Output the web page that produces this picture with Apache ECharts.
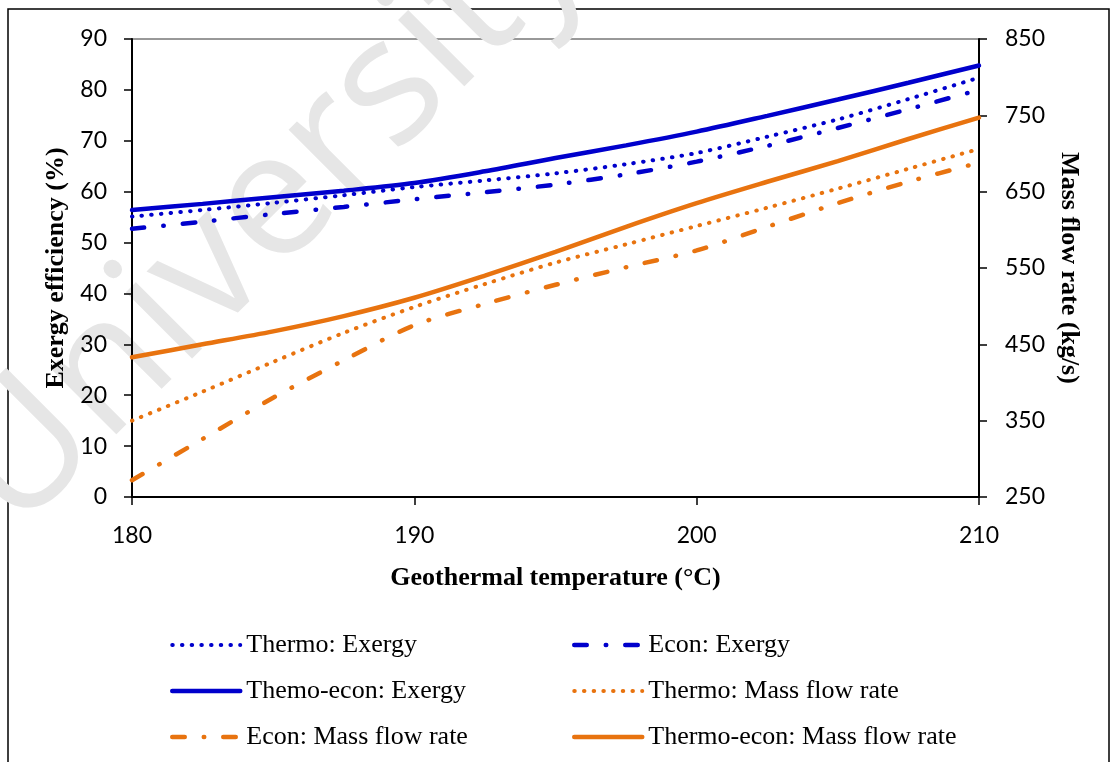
<!DOCTYPE html>
<html>
<head>
<meta charset="utf-8">
<script src="https://cdn.jsdelivr.net/npm/echarts@6/dist/echarts.min.js"></script>
<style>html,body{margin:0;padding:0;background:#fff}#c{width:1115px;height:762px}</style>
</head>
<body>
<div id="c"></div>
<script>
// Data
var temps = [180, 182.5, 185, 187.5, 190, 192.5, 195, 197.5, 200, 202.5, 205, 207.5, 210];
var thermoExergy    = [55.1, 56.4, 57.8, 59.3, 60.9, 62.2, 63.6, 65.4, 67.6, 70.8, 74.2, 78.2, 82.4];
var econExergy      = [52.7, 54.1, 55.6, 57.0, 58.5, 59.9, 61.4, 63.4, 65.9, 69.0, 72.5, 76.2, 80.0];
var thermoEconExergy= [56.4, 57.6, 58.9, 60.2, 61.7, 64.0, 66.6, 69.1, 71.8, 74.9, 78.1, 81.4, 84.8];
var thermoMass      = [350, 388, 427, 465, 499, 529, 557, 581, 605, 629, 654, 680, 706];
var econMass        = [272, 326, 380, 429, 475, 503, 528, 551, 573, 604, 635, 663, 688];
var thermoEconMass  = [433, 450, 467, 487, 511, 540, 571, 604, 635, 663, 690, 719, 747];
var xTicks = [180, 190, 200, 210];
var leftTicks = [0, 90, 10];
var rightTicks = [250, 850, 100];
var names = ['Thermo: Exergy', 'Econ: Exergy', 'Themo-econ: Exergy',
             'Thermo: Mass flow rate', 'Econ: Mass flow rate', 'Thermo-econ: Mass flow rate'];

var BLUE = '#0000CC', ORANGE = '#E8730F';
function pairs(vals){ return temps.map(function(t,i){ return [t, vals[i]]; }); }
var DOT = [0.5, 9.2];
var DASHDOT = [12.5, 19, 0.5, 19];

var styles = {};
function ser(name, vals, axis, color, type, width){
  styles[name] = { color: color, width: width, type: type, cap: 'round' };
  return {
    name: name, type: 'line', yAxisIndex: axis, data: pairs(vals),
    smooth: 0.3, symbol: 'none', showSymbol: false,
    lineStyle: { color: color, width: width, type: type, cap: 'round' },
    itemStyle: { color: color }
  };
}
var series = [
  ser(names[0], thermoExergy, 0, BLUE, DOT, 4),
  ser(names[1], econExergy, 0, BLUE, DASHDOT, 4.5),
  ser(names[2], thermoEconExergy, 0, BLUE, 'solid', 4.5),
  ser(names[3], thermoMass, 1, ORANGE, DOT, 4),
  ser(names[4], econMass, 1, ORANGE, DASHDOT, 4.5),
  ser(names[5], thermoEconMass, 1, ORANGE, 'solid', 4.5)
];
function legItems(list){
  return list.map(function(n){
    return { name: n, lineStyle: styles[n], itemStyle: { opacity: 0, color: 'transparent', borderWidth: 0 } };
  });
}

var chart = echarts.init(document.getElementById('c'), null, {renderer: 'canvas'});
var tickFont = { fontFamily: 'Lato', fontSize: 23, color: '#000' };
var nameFont = { fontFamily: 'Liberation Serif', fontSize: 26, fontWeight: 'bold', color: '#000' };
var legText = { fontFamily: 'Liberation Serif', fontSize: 26, color: '#000', lineHeight: 26, padding: [0,0,0,1] };

chart.setOption({
  animation: false,
  backgroundColor: '#fff',
  graphic: [
    { type: 'rect', z: 0, shape: { x: 8, y: 9, width: 1101, height: 800 },
      style: { fill: null, stroke: '#000', lineWidth: 1.5 } },
    { type: 'text', z: 0, x: 268, y: 212, rotation: Math.PI / 4,
      style: { text: 'University', font: '175px "Open Sans"', fill: '#e6e6e6',
               align: 'center', verticalAlign: 'middle' } }
  ],
  grid: { left: 132, right: 136, top: 39, bottom: 265, show: true,
          borderColor: '#333', borderWidth: 1, backgroundColor: 'transparent' },
  xAxis: {
    type: 'value', min: xTicks[0], max: xTicks[xTicks.length-1], interval: 10,
    name: 'Geothermal temperature (°C)', nameLocation: 'middle', nameGap: 68,
    nameTextStyle: nameFont,
    axisLine: { lineStyle: { color: '#000', width: 2 } },
    axisTick: { show: true, inside: false, length: 8, lineStyle: { color: '#000', width: 1.5 } },
    axisLabel: Object.assign({ margin: 27 }, tickFont),
    splitLine: { show: false }
  },
  yAxis: [
    { type: 'value', position: 'left', min: leftTicks[0], max: leftTicks[1], interval: leftTicks[2],
      name: 'Exergy efficiency (%)', nameLocation: 'middle', nameGap: 60, nameRotate: 90,
      nameTextStyle: nameFont,
      axisLine: { show: true, lineStyle: { color: '#000', width: 2 } },
      axisTick: { show: true, length: 8, lineStyle: { color: '#000', width: 1.5 } },
      axisLabel: Object.assign({ margin: 25 }, tickFont),
      splitLine: { show: false } },
    { type: 'value', position: 'right', min: rightTicks[0], max: rightTicks[1], interval: rightTicks[2],
      name: 'Mass flow rate (kg/s)', nameLocation: 'middle', nameGap: 65, nameRotate: -90,
      nameTextStyle: nameFont,
      axisLine: { show: true, lineStyle: { color: '#000', width: 2 } },
      axisTick: { show: true, length: 8, lineStyle: { color: '#000', width: 1.5 } },
      axisLabel: Object.assign({ margin: 26 }, tickFont),
      splitLine: { show: false } }
  ],
  legend: [
    { orient: 'vertical', left: 170, top: 632, padding: 0, itemWidth: 68, itemHeight: 14, itemGap: 20,
      data: legItems([names[0], names[2], names[4]]), textStyle: legText },
    { orient: 'vertical', left: 572, top: 632, padding: 0, itemWidth: 68, itemHeight: 14, itemGap: 20,
      data: legItems([names[1], names[3], names[5]]), textStyle: legText }
  ],
  series: series
});
</script>
</body>
</html>
